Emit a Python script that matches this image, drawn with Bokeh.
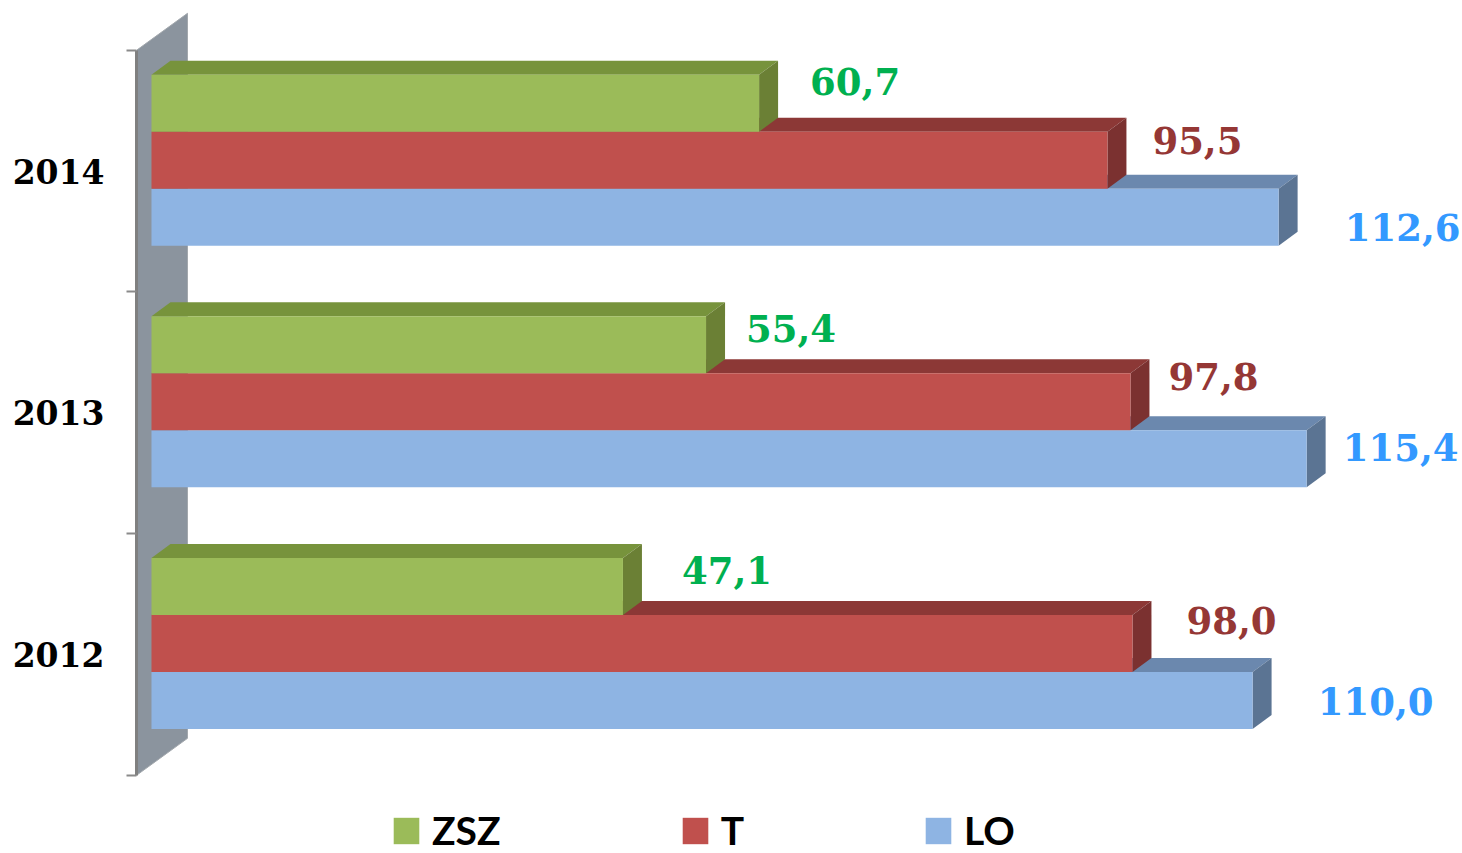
from bokeh.plotting import figure
from bokeh.models import ColumnDataSource, FixedTicker, Legend, LegendItem
from bokeh.core.properties import value
from bokeh.embed import file_html
from bokeh.resources import INLINE

years = ["2012", "2013", "2014"]
series = ["ZSZ", "T", "LO"]
zsz = [47.1, 55.4, 60.7]
t = [98.0, 97.8, 95.5]
lo = [110.0, 115.4, 112.6]
zsz_labels = ["47,1", "55,4", "60,7"]
t_labels = ["98,0", "97,8", "95,5"]
lo_labels = ["110,0", "115,4", "112,6"]

W, H = 1462, 853
LEFT = 136
ZERO_Y = 654
PX_X = 10.01
PX_Y = 241.67
X0 = 1.497          # front face start
DX, DY = 19 / PX_X, 14 / PX_Y
BAR_H = 57 / PX_Y
CENTER_SHIFT = 11 / PX_Y
WALL_DX, WALL_DY = 51 / PX_X, 37 / PX_Y

p = figure(width=W, height=H, output_backend="svg", toolbar_location=None,
           x_range=(0, (W - LEFT) / PX_X),
           y_range=(-(H - ZERO_Y) / PX_Y, ZERO_Y / PX_Y),
           min_border_left=LEFT, min_border_right=0, min_border_top=0, min_border_bottom=0,
           outline_line_color=None, background_fill_color="white")
p.grid.visible = False
p.xaxis.visible = False

ax = p.yaxis[0]
ax.ticker = FixedTicker(ticks=[0, 1, 2], minor_ticks=[-0.5, 0.5, 1.5, 2.5])
ax.major_label_overrides = {i: y for i, y in enumerate(years)}
ax.bounds = (-0.5, 2.5)
ax.major_tick_in = 0
ax.major_tick_out = 0
ax.minor_tick_in = 0
ax.minor_tick_out = 10
ax.minor_tick_line_color = "#8A8A8A"
ax.minor_tick_line_width = 2
ax.axis_line_color = "#808080"
ax.axis_line_width = 3
ax.major_label_standoff = 22
ax.major_label_text_font = "DejaVu Serif"
ax.major_label_text_font_style = "bold"
ax.major_label_text_font_size = "33px"
ax.major_label_text_color = "black"

# back wall
p.patch([0, WALL_DX, WALL_DX, 0], [-0.5, -0.5 + WALL_DY, 2.5 + WALL_DY, 2.5],
        fill_color="#8B949E", line_color="#A3A8AD", line_width=1)

styles = [
    # name, values, texts, slot, front, top, side, label colour, x offsets, y offsets
    ("LO", lo, lo_labels, -1, "#8EB4E3", "#6B88AE", "#5B7493", "#3399FF", [123, 94, 124], [1, -11, 10]),
    ("T", t, t_labels, 0, "#C0504D", "#8C3836", "#7B3130", "#953735", [99, 83, 90], [-23, -25, -20]),
    ("ZSZ", zsz, zsz_labels, 1, "#9BBB59", "#77933C", "#6B8035", "#00B050", [104, 85, 96], [-16, -16, -22]),
]
fronts = {}
for name, vals, texts, slot, front, top, side, lab, xo, yo in styles:
    ys = [i + CENTER_SHIFT + slot * BAR_H for i in range(3)]
    ends = [X0 + v for v in vals]
    # top and side faces
    p.patches(
        [[X0, X0 + DX, e + DX, e] for e in ends],
        [[y + BAR_H / 2, y + BAR_H / 2 + DY, y + BAR_H / 2 + DY, y + BAR_H / 2] for y in ys],
        fill_color=top, line_color=None)
    p.patches(
        [[e, e + DX, e + DX, e] for e in ends],
        [[y + BAR_H / 2, y + BAR_H / 2 + DY, y - BAR_H / 2 + DY, y - BAR_H / 2] for y in ys],
        fill_color=side, line_color=None)
    src = ColumnDataSource(dict(y=ys, left=[X0] * 3, right=ends, label=texts, xo=xo, yo=yo))
    fronts[name] = p.hbar(y="y", left="left", right="right", height=BAR_H, source=src,
                          fill_color=front, line_color=None)
    p.text(x="right", y="y", text="label", x_offset="xo", y_offset="yo", source=src,
           text_color=lab, text_font=value("DejaVu Serif"), text_font_style="bold",
           text_font_size="37px", text_align="center", text_baseline="middle")

legend = Legend(
    items=[LegendItem(label=s, renderers=[fronts[s]]) for s in series],
    orientation="horizontal", location=(390 - LEFT, 0),
    spacing=178, padding=0, margin=0, glyph_width=32, glyph_height=33, label_standoff=10,
    background_fill_alpha=0, border_line_color=None,
    label_text_font="Lato", label_text_font_style="bold",
    label_text_font_size="39px", label_text_color="black", label_height=33)
p.add_layout(legend, "center")

open("out.html", "w").write(file_html(p, INLINE))
